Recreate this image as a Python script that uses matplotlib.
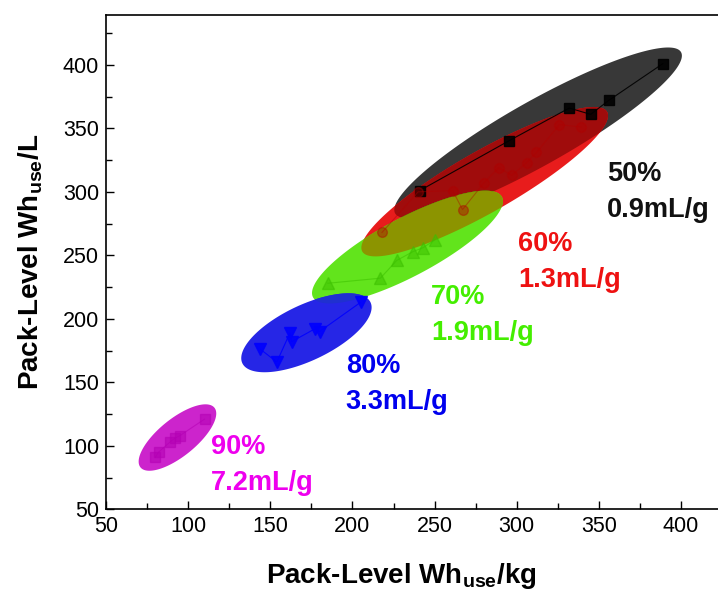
import numpy as np
import matplotlib
matplotlib.use('Agg')
import matplotlib.pyplot as plt
from matplotlib.patches import Polygon
from matplotlib.ticker import MultipleLocator

plt.rcParams['font.family'] = ['Liberation Sans', 'DejaVu Sans']
plt.rcParams['mathtext.fontset'] = 'custom'
plt.rcParams['mathtext.rm'] = 'Liberation Sans'
plt.rcParams['mathtext.bf'] = 'Liberation Sans:bold'

# pack-level gravimetric (Wh/kg) vs volumetric (Wh/L) energy per porosity group
x_50 = [241, 295, 332, 345, 356, 389]
y_50 = [301, 340, 366, 361, 372, 401]
x_60 = [218, 240, 261, 267, 280, 289, 297, 306, 312, 326, 339]
y_60 = [268, 300, 301, 286, 307, 319, 313, 323, 331, 353, 351]
x_70 = [185, 217, 227, 237, 243, 250]
y_70 = [228, 232, 246, 253, 256, 262]
x_80 = [144, 154, 162, 163, 177, 180, 205]
y_80 = [176, 166, 189, 182, 192, 190, 213]
x_90 = [80, 82, 89, 92, 95, 110]
y_90 = [91, 95, 103, 106, 108, 121]

group_pct = ['50%', '60%', '70%', '80%', '90%']
group_vol = ['0.9mL/g', '1.3mL/g', '1.9mL/g', '3.3mL/g', '7.2mL/g']
label_x = [355, 301, 248, 196, 114]
label_y = [314, 259, 217, 163, 99]

# major-axis end points of the shaded ellipse around each group
ell_start = [(226, 283), (206, 253), (176, 217), (133, 165), (71, 83)]
ell_end = [(400, 410), (355, 363), (291, 296), (211, 213), (116, 130)]
ell_width = [46, 44, 42, 40, 27]   # minor axis, points

groups = [(x_50, y_50), (x_60, y_60), (x_70, y_70), (x_80, y_80), (x_90, y_90)]
markers = ['s', 'o', '^', 'v', 's']
msizes = [7, 7, 8, 8, 7]
line_colors = ['#000000', '#b00000', '#3cc000', '#0000ff', '#b400b4']
line_alpha = [0.9, 0.4, 0.55, 0.9, 0.55]
fill_colors = ['#383838', '#e81c1c', '#62e41c', '#2626e6', '#cc24cc']
text_colors = ['#111111', '#ee1111', '#44ee00', '#0000ee', '#ee00ee']

# darker shade where a later ellipse lies over an earlier one: (upper, lower, colour)
overlaps = [(1, 0, '#a00c0c'), (2, 0, '#3e5a00'), (2, 1, '#8c9400'),
            (3, 2, '#2030d0')]

fig = plt.figure(figsize=(7.18, 6.0), dpi=100)
ax = fig.add_axes([0.1476, 0.1512, 0.8524, 0.8243])
ax.set_xlim(50, 422.5)
ax.set_ylim(50, 439.5)


def ellipse_patch(ax, p0, p1, width_pt, **kw):
    """Ellipse with a major axis from p0 to p1 (data) and a minor axis in points"""
    d0, d1 = ax.transData.transform([p0, p1])
    c = (d0 + d1) / 2
    v = (d1 - d0) / 2
    n = np.array([-v[1], v[0]]) / np.linalg.norm(v)
    n = n * width_pt * fig.dpi / 72 / 2
    t = np.linspace(0, 2 * np.pi, 240)
    pts = c + np.outer(np.cos(t), v) + np.outer(np.sin(t), n)
    return Polygon(ax.transData.inverted().transform(pts), closed=True, **kw)


patches = []
for i in range(len(groups)):
    p = ellipse_patch(ax, ell_start[i], ell_end[i], ell_width[i],
                      facecolor=fill_colors[i], edgecolor='none', zorder=2 + i)
    ax.add_patch(p)
    patches.append(p)

for upper, lower, col in overlaps:
    p = ellipse_patch(ax, ell_start[upper], ell_end[upper], ell_width[upper],
                      facecolor=col, edgecolor='none', zorder=2.5 + upper)
    ax.add_patch(p)
    p.set_clip_path(patches[lower])

for i, (gx, gy) in enumerate(groups):
    ax.plot(gx, gy, color=line_colors[i], marker=markers[i], ms=msizes[i],
            lw=0.8, alpha=line_alpha[i], zorder=10)
    ax.text(label_x[i], label_y[i], group_pct[i], color=text_colors[i],
            fontsize=19.5, fontweight='bold', ha='left', va='center')
    ax.text(label_x[i], label_y[i] - 28.5, group_vol[i], color=text_colors[i],
            fontsize=19.5, fontweight='bold', ha='left', va='center')

ax.xaxis.set_major_locator(MultipleLocator(50))
ax.xaxis.set_minor_locator(MultipleLocator(25))
ax.yaxis.set_major_locator(MultipleLocator(50))
ax.yaxis.set_minor_locator(MultipleLocator(25))
ax.tick_params(which='both', direction='in', top=False, right=False,
               labelsize=15.5, width=1.0)
ax.tick_params(which='major', length=6, pad=5)
ax.tick_params(which='minor', length=4)
ax.spines['right'].set_visible(False)
for s in ['left', 'bottom', 'top']:
    ax.spines[s].set_linewidth(1.2)

ax.set_xlabel(r'Pack-Level Wh$_\mathbf{use}$/kg', fontsize=20,
              fontweight='bold')
ax.set_ylabel(r'Pack-Level Wh$_\mathbf{use}$/L', fontsize=20,
              fontweight='bold')
ax.xaxis.set_label_coords(0.482, -0.105)
ax.yaxis.set_label_coords(-0.10, 0.5)

fig.savefig('out.png', dpi=100)
